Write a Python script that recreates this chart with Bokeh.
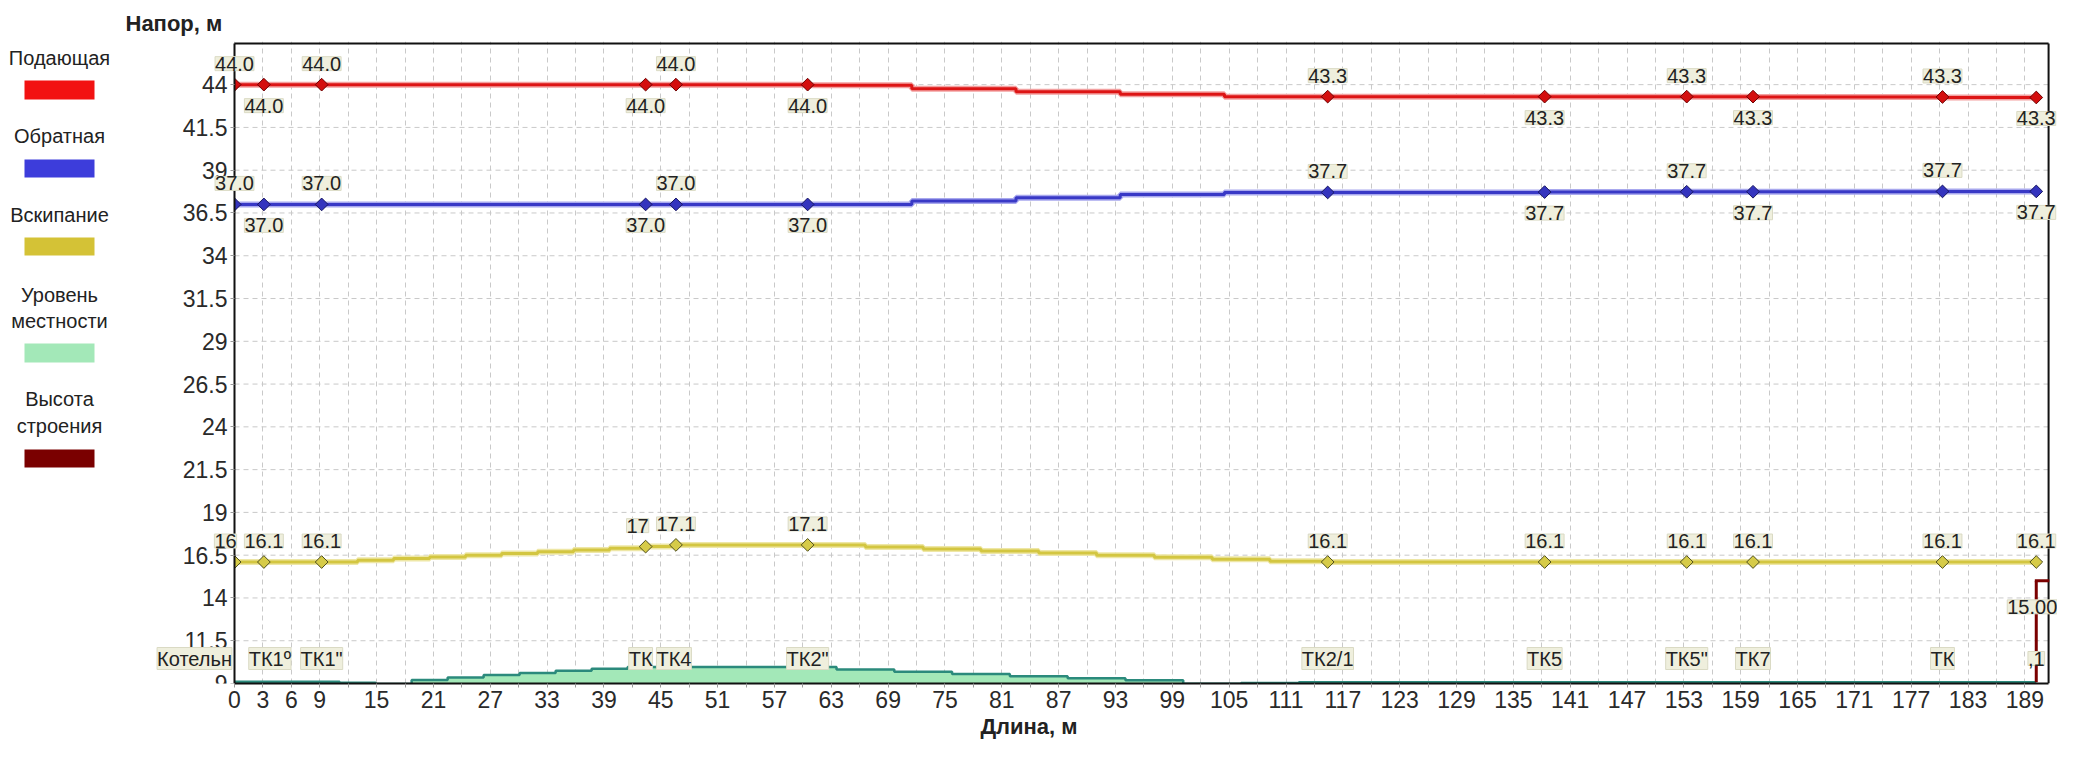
from bokeh.plotting import figure
from bokeh.models import (Range1d, FixedTicker, LabelSet, Label, ColumnDataSource,
                          BoxAnnotation, Title)
from bokeh.core.properties import value
from bokeh.embed import file_html
from bokeh.resources import INLINE
import numpy as np

# ---------------- data ----------------
node_x = [0, 3.1, 9.2, 43.4, 46.6, 60.5, 115.4, 138.3, 153.3, 160.3, 180.3, 190.2]
node_names = ["Котельн", "ТК1º", "ТК1\"", "ТК", "ТК4", "ТК2\"", "ТК2/1", "ТК5", "ТК5\"", "ТК7", "ТК", ",1"]

supply_node = [44.0, 44.0, 44.0, 44.0, 44.0, 44.0, 43.3, 43.3, 43.3, 43.3, 43.28, 43.25]
supply_labels = ["44.0"] * 6 + ["43.3"] * 6
return_node = [37.0, 37.0, 37.0, 37.0, 37.0, 37.0, 37.7, 37.72, 37.74, 37.74, 37.76, 37.76]
return_labels = ["37.0"] * 6 + ["37.7"] * 6
boil_node = [16.1, 16.1, 16.1, 17.0, 17.1, 17.1, 16.1, 16.1, 16.1, 16.1, 16.1, 16.1]
boil_labels = ["16", "16.1", "16.1", "17", "17.1", "17.1", "16.1", "16.1", "16.1", "16.1", "16.1", "16.1"]

# stair profiles along the route
pipe_step_x = [0, 3.1, 9.2, 43.4, 46.6, 60.5, 71.5, 82.5, 93.5, 104.5, 115.4, 138.3, 153.3, 160.3, 180.3, 190.2]
supply_step_y = [44.0, 44.0, 44.0, 44.0, 44.0, 43.96, 43.76, 43.59, 43.44, 43.3, 43.3, 43.3, 43.3, 43.28, 43.25, 43.25]
return_step_y = [37.0, 37.0, 37.0, 37.0, 37.0, 37.0, 37.2, 37.39, 37.58, 37.7, 37.7, 37.72, 37.74, 37.74, 37.76, 37.76]

boil_step_x = [0, 3.1, 9.2, 13.0, 16.8, 20.6, 24.4, 28.2, 32.0, 35.8, 39.6, 43.4, 46.6, 60.5,
               66.6, 72.7, 78.8, 84.9, 91.0, 97.1, 103.2, 109.3, 115.4, 138.3, 153.3, 160.3, 180.3, 190.2]
boil_step_y = [16.1, 16.1, 16.1, 16.2, 16.3, 16.4, 16.5, 16.6, 16.7, 16.8, 16.9, 17.0, 17.1, 17.1,
               16.98, 16.86, 16.74, 16.62, 16.5, 16.38, 16.26, 16.14, 16.1, 16.1, 16.1, 16.1, 16.1, 16.1]

ground_x = boil_step_x
ground_y = [9.1, 9.1, 9.1, 9.04, 8.97, 9.21, 9.35, 9.49, 9.61, 9.74, 9.86, 9.97, 9.97, 9.97,
            9.82, 9.68, 9.55, 9.43, 9.31, 9.19, 8.98, 9.03, 9.08, 9.08, 9.08, 9.08, 9.08, 9.08]

building_x = [190.2]
building_base = [9.08]
building_top = [15.0]
building_labels = ["15.00"]

x_ticks = list(range(0, 190, 3))
x_labeled = [0, 3, 6, 9] + list(range(15, 190, 6))
y_ticks = [9, 11.5, 14, 16.5, 19, 21.5, 24, 26.5, 29, 31.5, 34, 36.5, 39, 41.5, 44]
x_end = 191.5
y_end = 46.4

legend_names = [["Подающая"], ["Обратная"], ["Вскипание"], ["Уровень", "местности"], ["Высота", "строения"]]
legend_colors = ["#F21212", "#3D3DDB", "#D4C236", "#A3E8B8", "#7A0000"]

# ---------------- layout constants (page pixels) ----------------
W, H = 2057, 745
X0_PX, Y0_PX = 242, 691          # page position of (0, 9)
PPX, PPY = 9.473, 17.11          # pixels per unit
FRAME_TOP = 49


def dx(px):
    return (px - X0_PX) / PPX


def dy(py):
    return 9 + (Y0_PX - py) / PPY


FONT = "Liberation Sans"

p = figure(width=W, height=H, x_range=Range1d(dx(8), dx(8 + W)), y_range=Range1d(9, dy(FRAME_TOP)),
           output_backend="svg", toolbar_location=None,
           min_border_left=0, min_border_right=0,
           min_border_top=FRAME_TOP - 8, min_border_bottom=(8 + H) - Y0_PX)
p.background_fill_color = "white"
p.border_fill_color = "white"
p.outline_line_color = None

# axes
p.xaxis.ticker = FixedTicker(ticks=x_ticks)
p.xaxis.major_label_overrides = {t: (str(t) if t in x_labeled else "") for t in x_ticks}
p.xaxis.bounds = (0, x_end)
p.yaxis.ticker = FixedTicker(ticks=y_ticks)
p.yaxis.major_label_overrides = {t: f"{t:g}" for t in y_ticks}
p.yaxis.fixed_location = 0
p.yaxis.bounds = (9, y_end)
for ax in (p.xaxis, p.yaxis):
    ax.axis_line_color = "#111111"
    ax.axis_line_width = 2
    ax.major_tick_line_color = "#9a9a9a"
    ax.major_tick_in = 0
    ax.major_tick_out = 4
    ax.minor_tick_line_color = None
    ax.major_label_text_font = FONT
    ax.major_label_text_font_size = "23px"
    ax.major_label_text_color = "#2a2a2a"
    ax.major_label_standoff = 3

p.xgrid.ticker = FixedTicker(ticks=x_ticks)
p.xgrid.grid_line_color = "#c9c9c9"
p.xgrid.grid_line_dash = "5 4"
p.ygrid.visible = False
# horizontal grid lines limited to the plotting box
p.segment(x0=[0] * len(y_ticks), y0=y_ticks, x1=[x_end] * len(y_ticks), y1=y_ticks,
          line_color="#c9c9c9", line_dash="5 4", line_width=1)

# ground
n = len(ground_x)
p.varea_step(x=ground_x, y1=[8.0] * n, y2=ground_y, step_mode="center", fill_color="#A3E8B8")
p.step(ground_x, ground_y, mode="center", line_color="#2B8A7C", line_width=2.5)

# frame top / right borders
p.segment(x0=[0, x_end], y0=[y_end, 9], x1=[x_end, x_end], y1=[y_end, y_end],
          line_color="#111111", line_width=2)

# building height
p.segment(x0=building_x, y0=building_base, x1=building_x, y1=building_top, line_color="#7A0000", line_width=3)
cap = [b + 13 / PPX for b in building_x]
p.segment(x0=[b - 0.15 for b in building_x], y0=building_top, x1=cap, y1=building_top,
          line_color="#7A0000", line_width=3)

# pipe lines
p.step(pipe_step_x, supply_step_y, mode="after", line_color="#F3A0A0", line_width=6)
p.step(pipe_step_x, supply_step_y, mode="after", line_color="#DD1515", line_width=3)
p.step(pipe_step_x, return_step_y, mode="after", line_color="#A8A8EE", line_width=6)
p.step(pipe_step_x, return_step_y, mode="after", line_color="#3939C6", line_width=3)
p.step(boil_step_x, boil_step_y, mode="after", line_color="#EEE7A6", line_width=6)
p.step(boil_step_x, boil_step_y, mode="after", line_color="#D3C641", line_width=3)

# node markers (the marker at the start of the route is cut by the axis, as a half diamond)
HW, HH = 6.5 / PPX, 6.5 / PPY
for ys, fc, lc in ((supply_node, "#D40E0E", "#6E0000"),
                   (return_node, "#3434BE", "#161660"),
                   (boil_node, "#D6CB48", "#4E4E1E")):
    inner_x = [x for x in node_x if x > 0]
    inner_y = [y for x, y in zip(node_x, ys) if x > 0]
    p.scatter(inner_x, inner_y, marker="square", angle=np.pi / 4, size=9,
              fill_color=fc, line_color=lc, line_width=1)
    start_x = [x for x in node_x if x == 0]
    start_y = [y for x, y in zip(node_x, ys) if x == 0]
    p.patches(xs=[[x, x + HW, x] for x in start_x],
              ys=[[y + HH, y, y - HH] for y in start_y],
              fill_color=fc, line_color=lc, line_width=1)

# data labels
BOX = dict(background_fill_color="#EFEFDD", border_line_color="#DADAC4", border_line_width=1,
           text_font=value(FONT), text_font_size="20px", text_color="#222222",
           text_align="center", text_baseline="middle")


def add_labels(xs, ys, texts, yoff, xoff):
    src = ColumnDataSource(dict(x=xs, y=ys, t=texts, yo=yoff, xo=xoff))
    kw = dict(x="x", y="y", text="t", y_offset="yo", x_offset="xo", source=src, **BOX)
    try:
        ls = LabelSet(padding=2, **kw)
    except Exception:
        ls = LabelSet(**kw)
    p.add_layout(ls)


alt = [21 if i % 2 == 0 else -21 for i in range(len(node_x))]
zero = [0] * len(node_x)
add_labels(node_x, supply_node, supply_labels, alt, zero)
add_labels(node_x, return_node, return_labels, alt, zero)
boil_xoff = [-9, 0, 0, -8, 0, 0, 0, 0, 0, 0, 0, 0]
add_labels(node_x, boil_node, boil_labels, [21] * len(node_x), boil_xoff)
name_xoff = [-40, 6, 0, -5, -2, 0, 0, 0, 0, 0, 0, 0]
add_labels(node_x, [9] * len(node_x), node_names, [25] * len(node_x), name_xoff)
add_labels(building_x, building_top, building_labels, [-26], [-4])

# titles
p.add_layout(Title(text="Напор, м", align="left", offset=133 - 8, standoff=12,
                   text_font=FONT, text_font_size="22px", text_font_style="bold",
                   text_color="#222222"), "above")
p.add_layout(Title(text="Длина, м", align="center", offset=1149 - (8 + W / 2), standoff=2,
                   text_font=FONT, text_font_size="22px", text_font_style="bold",
                   text_color="#222222"), "below")

# legend (left of the plotting box)
legend_text_y = [[65], [143], [222], [302, 328], [406, 433]]
legend_box_y = [(88, 107), (167, 185), (245, 263), (351, 370), (457, 475)]
for names, ty, (bt, bb), col in zip(legend_names, legend_text_y, legend_box_y, legend_colors):
    for nm, yy in zip(names, ty):
        p.add_layout(Label(x=dx(67), y=dy(yy), text=nm, text_font=FONT, text_font_size="20px",
                           text_color="#222222", text_align="center", text_baseline="middle"))
    p.add_layout(BoxAnnotation(left=dx(32), right=dx(102), top=dy(bt), bottom=dy(bb),
                               fill_color=col, fill_alpha=1.0, line_color=None))

open("out.html", "w").write(file_html(p, INLINE))
